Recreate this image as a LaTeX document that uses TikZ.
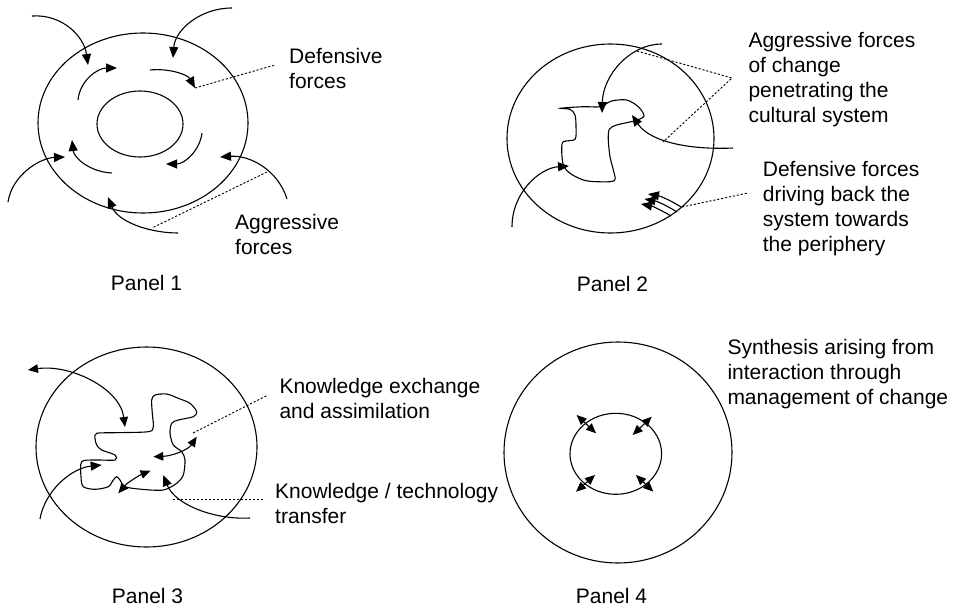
\documentclass[tikz,border=0pt]{standalone}
\usepackage{fontspec}
\setmainfont{Liberation Sans}
\usetikzlibrary{arrows.meta}
\tikzset{
  ln/.style={line width=1.1pt},
  arr/.style={ln, -{Triangle[length=11pt,width=9pt]}},
  darr/.style={ln, {Triangle[length=10pt,width=8.5pt]}-{Triangle[length=10pt,width=8.5pt]}},
  lead/.style={line width=0.9pt, dash pattern=on 2.2pt off 1.8pt},
  lbl/.style={anchor=north west, inner sep=0pt, align=left, font=\fontsize{21}{25}\selectfont}
}
\begin{document}
\begin{tikzpicture}[x=1pt,y=-1pt]
\useasboundingbox (0,0) rectangle (959,608);

% ---------------- Panel 1 ----------------
\draw[ln] (143,123) ellipse [x radius=105, y radius=90];
\draw[ln] (140,124) ellipse [x radius=43, y radius=33];
% aggressive forces (outside)
\draw[arr] (32,16) .. controls (62,14) and (84,36) .. (88,65);
\draw[arr] (232,8) .. controls (200,8) and (175,30) .. (173,58);
\draw[arr] (8,202) .. controls (12,175) and (40,158) .. (65,157);
\draw[arr] (287,199) .. controls (278,170) and (250,155) .. (220,157);
\draw[arr] (178,233) .. controls (150,233) and (118,222) .. (108,197);
% defensive forces (inside)
\draw[arr] (78,100) .. controls (80,80) and (98,68) .. (117,68);
\draw[arr] (150,70) .. controls (170,68) and (188,75) .. (195,88);
\draw[arr] (202,133) .. controls (200,150) and (185,164) .. (166,164);
\draw[arr] (112,173) .. controls (90,172) and (74,158) .. (72,140);
\node[lbl] (p1def) at (289,47.7) {Defensive\\forces};
\node[lbl] (p1agg) at (235,214) {Aggressive\\forces};
\coordinate (p1d1) at (195,88);
\coordinate (p1d2) at (275,65);
\coordinate (p1a1) at (267,172);
\coordinate (p1a2) at (152,228);
\draw[lead] (p1d1) -- (p1d2);
\draw[lead] (p1a1) -- (p1a2);
\node[lbl] (p1) at (110.7,275) {Panel 1};

% ---------------- Panel 2 ----------------
\draw[ln] (610.5,138.5) ellipse [x radius=103.5, y radius=94.5];
\draw[ln] plot[smooth cycle, tension=0.5] coordinates {
  (560,108.3) (583.3,106.7) (600,106.7) (611.7,101) (626.7,100) (638.3,106.7)
  (644,116) (635,120.7) (616.7,125) (609.3,129.3) (608.3,140) (610,156.7)
  (613.3,170) (614.3,180.7) (596.7,181.7) (583.3,180) (570,173.3) (563.3,165)
  (561.7,150) (563.3,141.7) (575,139.3) (576,126.7) (575,115) (570,109.3)};
\draw[arr] (662,44) .. controls (630,44) and (603,75) .. (602,113);
\draw[arr] (733,148) .. controls (690,150) and (650,142) .. (632,115);
\draw[arr] (512,227) .. controls (512,192) and (540,168) .. (569,166);
% defensive triple arrows
\draw[arr] (681,207) .. controls (670,200) and (660,196) .. (648,194);
\draw[arr] (677,212) .. controls (666,205) and (656,201) .. (644.5,199);
\draw[arr] (671,216) .. controls (661,210) and (652,206) .. (641,204);
\node[lbl] (p2agg) at (748.3,32.3) {Aggressive forces\\of change\\penetrating the\\cultural system};
\node[lbl] (p2def) at (762.7,161) {Defensive forces\\driving back the\\system towards\\the periphery};
\coordinate (p2a1) at (637,51);
\coordinate (p2a2) at (732,78);
\coordinate (p2a3) at (663,142);
\coordinate (p2d1) at (682,207);
\coordinate (p2d2) at (748,193);
\draw[lead] (p2a1) -- (p2a2) -- (p2a3);
\draw[lead] (p2d1) -- (p2d2);
\node[lbl] (p2) at (576.7,276) {Panel 2};

% ---------------- Panel 3 ----------------
\draw[ln] (146.5,447) ellipse [x radius=110.5, y radius=100];
\draw[ln] plot[smooth cycle, tension=0.5] coordinates {
  (96.7,433.3) (115,432.7) (148.3,431.7) (153.3,426.7) (152.3,413.3) (151.7,400)
  (155,395) (166.7,394) (178.3,398.3) (190,403.3) (196.7,411.7) (193.3,416.7)
  (178.3,420) (171.7,423.3) (170,433.3) (173.3,445) (181.7,451.7) (185,460)
  (183.3,475) (176.7,483.3) (163.3,490) (141.7,489.3) (125,486.7) (120,480)
  (116.7,476.7) (113.3,480) (108.3,486.7) (95,489.3) (83.3,486.7) (81,476.7)
  (81.7,461.7) (95,460) (115,460) (115,455) (101.7,450) (96.7,445) (95,438.3)};
\draw[darr] (28,370) .. controls (70,364) and (120,388) .. (125,427);
\draw[arr] (40,519) .. controls (45,490) and (72,468) .. (101.7,465);
\draw[darr] (118.3,493.3) .. controls (128,482) and (140,475) .. (150.5,470.7);
\draw[darr] (153.3,456.7) .. controls (172,456) and (188,450) .. (196.7,436.7);
\draw[arr] (250,518) .. controls (215,520) and (175,505) .. (163.3,475);
\node[lbl] (p3ke) at (279.3,378.3) {Knowledge exchange\\and assimilation};
\node[lbl] (p3kt) at (275,483.3) {Knowledge / technology\\transfer};
\coordinate (p3k1) at (193,433);
\coordinate (p3k2) at (268,395);
\coordinate (p3t1) at (173,499);
\coordinate (p3t2) at (265,499);
\draw[lead] (p3k1) -- (p3k2);
\draw[lead] (p3t1) -- (p3t2);
\node[lbl] (p3) at (111.7,587.7) {Panel 3};

% ---------------- Panel 4 ----------------
\draw[ln] (618,452.5) ellipse [x radius=114, y radius=110.5];
\draw[ln] (615.8,453.8) ellipse [x radius=45.8, y radius=40.5];
\draw[darr] (576.7,415) -- (596,433.3);
\draw[darr] (651.7,416.7) -- (632.7,435);
\draw[darr] (595,475) -- (576,491.7);
\draw[darr] (636,475) -- (653.3,491.7);
\node[lbl] (p4syn) at (727.3,339.3) {Synthesis arising from\\interaction through\\management of change};
\node[lbl] (p4) at (575.7,588.3) {Panel 4};
\end{tikzpicture}
\end{document}
